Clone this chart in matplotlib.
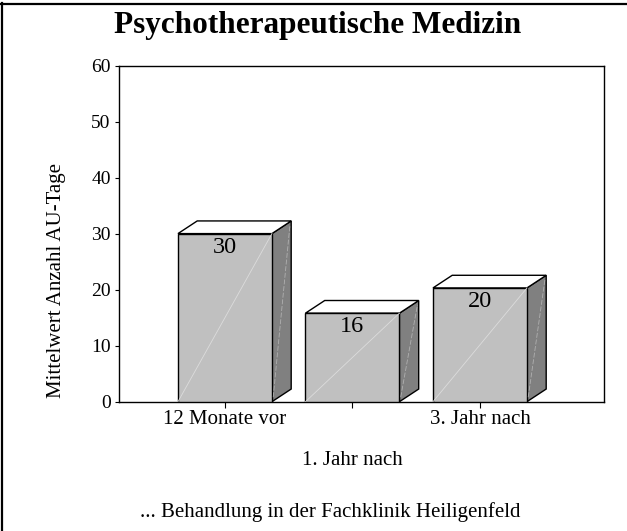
import matplotlib
matplotlib.use('Agg')
import matplotlib.pyplot as plt
from matplotlib.patches import Polygon
from matplotlib.lines import Line2D

# Mean number of sick-leave days
categories = ['12 Monate vor', '1. Jahr nach', '3. Jahr nach']
values = [30.0, 15.8, 20.3]
value_labels = ['30', '16', '20']
yticks = [0, 10, 20, 30, 40, 50, 60]

plt.rcParams['font.family'] = ['Liberation Serif', 'DejaVu Serif']

W, H = 627, 531
fig = plt.figure(figsize=(W / 100, H / 100), dpi=100)
ax = fig.add_axes([119 / W, 1 - 401.7 / H, 484.5 / W, 336.2 / H])

bar_w = 0.737
dx, dy = 0.151, 2.26   # fake 3d depth

for i, h in enumerate(values):
    x0, x1 = i - bar_w / 2, i + bar_w / 2
    # side face
    ax.add_patch(Polygon([(x1, 0), (x1 + dx, dy), (x1 + dx, h + dy), (x1, h)],
                         closed=True, facecolor='#808080', edgecolor='black', lw=1, zorder=2))
    # top face
    ax.add_patch(Polygon([(x0, h), (x0 + dx, h + dy), (x1 + dx, h + dy), (x1, h)],
                         closed=True, facecolor='white', edgecolor='black', lw=1, zorder=2))
    # front face
    ax.bar(i, h, width=bar_w, color='#c0c0c0', edgecolor='black', lw=1, zorder=3)
    # faint highlight lines
    ax.plot([x0, x1], [0, h], color='#dcdcdc', lw=0.6, zorder=4)
    ax.plot([x1 + 0.01, x1 + dx - 0.01], [0.8, h + dy - 0.8], color='#b0b0b0',
            lw=0.6, ls=(0, (6, 2)), zorder=4)
    ax.text(i, h - 2.4, value_labels[i], ha='center', va='center', fontsize=17.5, zorder=5)

ax.set_xlim(-0.831, 2.969)
ax.set_ylim(0, 60)
ax.set_yticks(yticks)
ax.set_yticklabels([str(t) for t in yticks], fontsize=14)
ax.set_xticks(range(len(categories)))
ax.set_xticklabels([])
ax.tick_params(axis='y', length=3, pad=3)
ax.tick_params(axis='x', length=4)
for sp in ax.spines.values():
    sp.set_linewidth(1)

# staggered category labels
for i, lab in enumerate(categories):
    off = -42.5 if i == 1 else -13
    ax.annotate(lab, xy=(i, 0), xycoords=('data', 'axes fraction'),
                xytext=(0, off), textcoords='offset points',
                ha='center', va='center', fontsize=15)

fig.text(56 / W, 1 - 280 / H, 'Mittelwert Anzahl AU-Tage', rotation=90,
         ha='center', va='center', fontsize=15)
fig.text(318 / W, 1 - 26 / H, 'Psychotherapeutische Medizin',
         ha='center', va='center', fontsize=22.5, fontweight='bold')
fig.text(330 / W, 1 - 512 / H, '... Behandlung in der Fachklinik Heiligenfeld',
         ha='center', va='center', fontsize=15)

# frame lines of the surrounding box
fig.add_artist(Line2D([0, 1], [1 - 4 / H, 1 - 4 / H], transform=fig.transFigure,
                      color='black', lw=1.6))
fig.add_artist(Line2D([2 / W, 2 / W], [0, 1 - 3 / H], transform=fig.transFigure,
                      color='black', lw=1.6))

fig.savefig('out.png', dpi=100)
